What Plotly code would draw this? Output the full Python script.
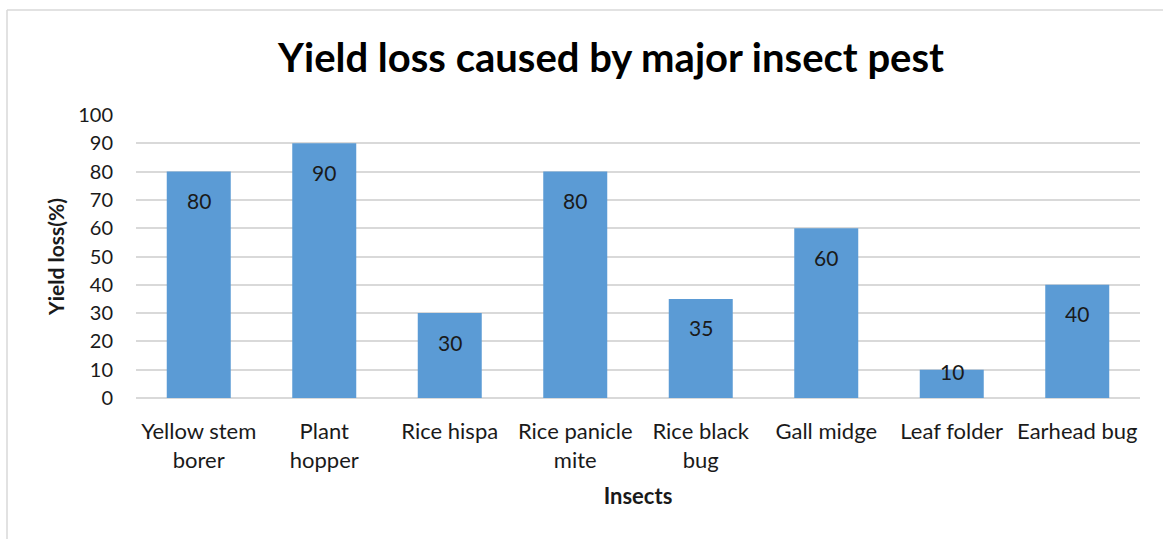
import plotly.graph_objects as go

# Yield loss (%) caused by each major insect pest
insects = [
    "Yellow stem<br>borer", "Plant<br>hopper", "Rice hispa", "Rice panicle<br>mite",
    "Rice black<br>bug", "Gall midge", "Leaf folder", "Earhead bug",
]
yield_loss = [80, 90, 30, 80, 35, 60, 10, 40]
y_ticks = [0, 10, 20, 30, 40, 50, 60, 70, 80, 90, 100]

FONT = "Lato"
BAR_COLOR = "#5B9BD5"
GRID = "#D9D9D9"
TEXT = "#1a1a1a"

W, H = 1164, 539
L, R, T, B = 136, 24, 115, 141
plot_h = H - T - B

fig = go.Figure()
fig.add_trace(go.Bar(
    x=insects, y=yield_loss,
    marker=dict(color=BAR_COLOR, line=dict(width=0)),
    width=0.51,
    hoverinfo="x+y",
))

# value labels sitting just inside the top of each bar
for name, v in zip(insects, yield_loss):
    bar_px = v / 100 * plot_h
    shift = -29 if bar_px > 60 else -2
    fig.add_annotation(
        x=name, y=v, xref="x", yref="y", text=str(v), showarrow=False,
        yanchor="middle", yshift=shift,
        font=dict(family=FONT, size=21, color=TEXT),
    )

# chart frame
fig.add_shape(type="line", xref="paper", yref="paper",
              x0=(7 - L) / (W - L - R), x1=(1163 - L) / (W - L - R),
              y0=(H - B - 10) / plot_h, y1=(H - B - 10) / plot_h,
              line=dict(color=GRID, width=1.5))
fig.add_shape(type="line", xref="paper", yref="paper",
              x0=(7 - L) / (W - L - R), x1=(7 - L) / (W - L - R),
              y0=(H - B - 10) / plot_h, y1=-(B + 5) / plot_h,
              line=dict(color=GRID, width=1.5))

fig.update_layout(
    width=W, height=H,
    margin=dict(l=L, r=R, t=T, b=B),
    paper_bgcolor="white", plot_bgcolor="white",
    showlegend=False,
    title=dict(
        text="<b>Yield loss caused by major insect pest</b>",
        x=611 / W, xanchor="center", y=1 - 58 / H, yanchor="middle",
        font=dict(family=FONT, size=40, color="#000000"),
    ),
    font=dict(family=FONT, color=TEXT),
    bargap=0.49,
)

fig.update_xaxes(
    tickfont=dict(family=FONT, size=22, color=TEXT),
    showgrid=False, showline=False, ticks="", ticklabelstandoff=18,
    title=dict(text="<b>Insects</b>", font=dict(family=FONT, size=22, color=TEXT), standoff=17),
)
fig.update_yaxes(
    range=[0, 100], tickvals=y_ticks,
    tickfont=dict(family=FONT, size=20, color=TEXT),
    showgrid=True, gridcolor=GRID, gridwidth=1.5,
    zeroline=True, zerolinecolor=GRID, zerolinewidth=1.5,
    showline=False, ticks="", ticklabelstandoff=22,
    title=dict(text="<b>Yield loss(%)</b>", font=dict(family=FONT, size=21, color=TEXT), standoff=7),
    fixedrange=True,
)

fig.write_html("out.html")
